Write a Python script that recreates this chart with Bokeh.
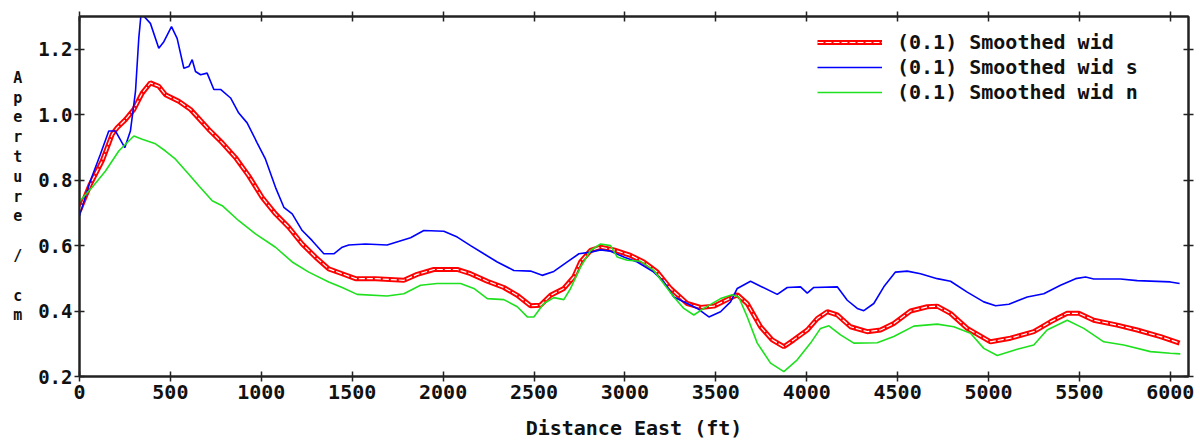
from bokeh.plotting import figure
from bokeh.models import (LinearAxis, Range1d, FixedTicker, PrintfTickFormatter,
                          Legend, LegendItem)
from bokeh.embed import file_html
from bokeh.resources import INLINE

# ---------------- data ----------------
x_ticks = [0, 500, 1000, 1500, 2000, 2500, 3000, 3500, 4000, 4500, 5000, 5500, 6000]
y_ticks = [0.2, 0.4, 0.6, 0.8, 1.0, 1.2]

series_names = ["(0.1) Smoothed wid", "(0.1) Smoothed wid s", "(0.1) Smoothed wid n"]

wid_x = [0, 60, 125, 180, 207, 253, 299, 345, 390, 436, 473, 546, 611, 711, 785, 858, 931,
         1005, 1078, 1151, 1225, 1298, 1371, 1445, 1518, 1628, 1784, 1857, 1949, 2078, 2151,
         2243, 2334, 2408, 2481, 2536, 2591, 2664, 2719, 2756, 2811, 2866, 2939, 3031, 3104,
         3178, 3251, 3343, 3416, 3489, 3563, 3618, 3673, 3746, 3810, 3874, 3929, 4003, 4058,
         4113, 4168, 4241, 4333, 4406, 4479, 4571, 4663, 4718, 4791, 4883, 5011, 5121, 5249,
         5341, 5433, 5497, 5579, 5708, 5818, 5946, 6051]
wid_y = [0.707, 0.788, 0.859, 0.940, 0.960, 0.985, 1.016, 1.066, 1.097, 1.087, 1.061, 1.041,
         1.016, 0.955, 0.914, 0.869, 0.813, 0.747, 0.697, 0.656, 0.605, 0.565, 0.529, 0.514,
         0.499, 0.499, 0.494, 0.512, 0.527, 0.527, 0.514, 0.491, 0.472, 0.448, 0.416, 0.418,
         0.448, 0.469, 0.504, 0.550, 0.585, 0.595, 0.587, 0.570, 0.550, 0.519, 0.469, 0.423,
         0.411, 0.415, 0.435, 0.450, 0.423, 0.352, 0.312, 0.291, 0.312, 0.342, 0.377, 0.398,
         0.388, 0.352, 0.337, 0.342, 0.362, 0.400, 0.413, 0.415, 0.393, 0.347, 0.306, 0.317,
         0.337, 0.367, 0.393, 0.393, 0.372, 0.357, 0.342, 0.322, 0.302]

wid_s_x = [0, 60, 115, 161, 198, 249, 280, 308, 326, 339, 390, 436, 464, 506, 537, 574, 601,
           620, 638, 666, 702, 739, 776, 831, 876, 922, 977, 1023, 1078, 1124, 1170, 1225,
           1280, 1344, 1399, 1445, 1481, 1573, 1692, 1821, 1894, 2004, 2078, 2151, 2224,
           2298, 2389, 2481, 2545, 2609, 2683, 2747, 2811, 2866, 2921, 2994, 3068, 3159,
           3214, 3269, 3343, 3398, 3462, 3526, 3581, 3618, 3691, 3746, 3838, 3893, 3966,
           4003, 4039, 4168, 4223, 4278, 4314, 4369, 4424, 4488, 4553, 4626, 4718, 4791,
           4883, 4974, 5039, 5112, 5213, 5304, 5396, 5479, 5534, 5579, 5726, 5818, 6000, 6051]
wid_s_y = [0.691, 0.798, 0.879, 0.950, 0.950, 0.899, 0.950, 1.071, 1.233, 1.310, 1.279, 1.203,
           1.223, 1.269, 1.233, 1.142, 1.147, 1.168, 1.132, 1.122, 1.127, 1.077, 1.077, 1.051,
           1.005, 0.975, 0.914, 0.864, 0.778, 0.717, 0.697, 0.646, 0.615, 0.575, 0.575, 0.595,
           0.602, 0.605, 0.602, 0.624, 0.646, 0.644, 0.626, 0.600, 0.575, 0.550, 0.524, 0.522,
           0.509, 0.521, 0.550, 0.575, 0.580, 0.587, 0.583, 0.565, 0.550, 0.519, 0.489, 0.443,
           0.423, 0.408, 0.382, 0.398, 0.428, 0.469, 0.491, 0.476, 0.451, 0.472, 0.474, 0.455,
           0.472, 0.474, 0.433, 0.408, 0.401, 0.423, 0.474, 0.519, 0.522, 0.514, 0.499, 0.491,
           0.458, 0.428, 0.416, 0.421, 0.443, 0.453, 0.479, 0.499, 0.504, 0.498, 0.498, 0.493,
           0.489, 0.484]

wid_n_x = [0, 70, 143, 216, 299, 345, 418, 473, 528, 601, 656, 730, 785, 876, 968, 1078, 1170,
           1261, 1371, 1445, 1527, 1692, 1784, 1876, 1967, 2096, 2169, 2243, 2334, 2408, 2463,
           2499, 2554, 2609, 2664, 2701, 2756, 2811, 2866, 2921, 2958, 3013, 3086, 3159, 3269,
           3324, 3379, 3434, 3526, 3590, 3626, 3673, 3728, 3801, 3874, 3948, 4021, 4076, 4122,
           4186, 4259, 4388, 4479, 4589, 4718, 4809, 4901, 4974, 5048, 5158, 5249, 5322, 5433,
           5524, 5634, 5744, 5891, 6000, 6055]
wid_n_y = [0.735, 0.778, 0.828, 0.889, 0.935, 0.925, 0.911, 0.889, 0.864, 0.818, 0.783, 0.737,
           0.722, 0.676, 0.636, 0.595, 0.550, 0.519, 0.489, 0.472, 0.451, 0.446, 0.453, 0.479,
           0.484, 0.484, 0.469, 0.438, 0.435, 0.413, 0.382, 0.382, 0.423, 0.441, 0.435, 0.469,
           0.534, 0.585, 0.605, 0.600, 0.565, 0.555, 0.552, 0.524, 0.443, 0.408, 0.388, 0.408,
           0.438, 0.450, 0.443, 0.382, 0.302, 0.241, 0.215, 0.251, 0.302, 0.347, 0.355, 0.327,
           0.302, 0.303, 0.322, 0.354, 0.360, 0.352, 0.332, 0.286, 0.264, 0.283, 0.296, 0.342,
           0.372, 0.347, 0.306, 0.296, 0.276, 0.271, 0.269]

x_title = "Distance East (ft)"
y_title = "Aperture / cm"

# ---------------- figure ----------------
FONT = "DejaVu Sans Mono"
AXC = "#222222"

p = figure(width=1200, height=442, output_backend="svg", toolbar_location=None,
           x_range=Range1d(0, 6100), y_range=Range1d(0.2, 1.3),
           min_border_left=79, min_border_right=12, min_border_top=16, min_border_bottom=65)
p.grid.visible = False
p.outline_line_color = AXC
p.outline_line_width = 2

def style_axis(ax, labels=True):
    ax.axis_line_color = AXC
    ax.axis_line_width = 2
    ax.major_tick_line_color = AXC
    ax.major_tick_line_width = 1.5
    ax.major_tick_in = 5
    ax.major_tick_out = 5
    ax.minor_tick_line_color = None
    ax.major_label_text_font = FONT
    ax.major_label_text_font_style = "bold"
    ax.major_label_text_color = "#111111"
    if not labels:
        ax.major_label_text_font_size = "1px"
        ax.major_label_text_color = None
        ax.major_label_standoff = 0

xt = FixedTicker(ticks=x_ticks)
yt = FixedTicker(ticks=y_ticks)

p.xaxis.ticker = xt
p.yaxis.ticker = yt
p.xaxis.formatter = PrintfTickFormatter(format="%d")
p.yaxis.formatter = PrintfTickFormatter(format="%.1f")
style_axis(p.xaxis[0])
style_axis(p.yaxis[0])
p.xaxis.major_label_text_font_size = "20px"
p.yaxis.major_label_text_font_size = "19px"
p.xaxis.major_label_standoff = 3
p.yaxis.major_label_standoff = 2

p.xaxis.axis_label = x_title
p.xaxis.axis_label_text_font = FONT
p.xaxis.axis_label_text_font_style = "bold"
p.xaxis.axis_label_text_font_size = "20px"
p.xaxis.axis_label_text_color = "#111111"
p.xaxis.axis_label_standoff = 14

# the y title is written one character per line, as in the reference
stacked = "\n".join(ch for ch in y_title)
p.yaxis.axis_label = stacked
p.yaxis.axis_label_orientation = "horizontal"
p.yaxis.axis_label_text_font = FONT
p.yaxis.axis_label_text_font_style = "bold"
p.yaxis.axis_label_text_font_size = "15px"
p.yaxis.axis_label_text_line_height = 1.10
p.yaxis.axis_label_text_color = "#111111"
p.yaxis.axis_label_text_align = "center"
p.yaxis.axis_label_standoff = 13

top = LinearAxis(ticker=FixedTicker(ticks=x_ticks))
style_axis(top, labels=False)
p.add_layout(top, "above")
right = LinearAxis(ticker=FixedTicker(ticks=y_ticks))
style_axis(right, labels=False)
p.add_layout(right, "right")

# ---------------- lines ----------------
r_red = p.line(wid_x, wid_y, line_color="#ff0000", line_width=5)
r_red_c = p.line(wid_x, wid_y, line_color="white", line_width=1.2, line_dash="6 2")
r_blue = p.line(wid_s_x, wid_s_y, line_color="#0000ff", line_width=1.6)
r_green = p.line(wid_n_x, wid_n_y, line_color="#1ee01e", line_width=1.6)

legend = Legend(items=[LegendItem(label=series_names[0], renderers=[r_red, r_red_c]),
                       LegendItem(label=series_names[1], renderers=[r_blue]),
                       LegendItem(label=series_names[2], renderers=[r_green])],
                location=(738, 272))
legend.label_text_font = FONT
legend.label_text_font_style = "bold"
legend.label_text_font_size = "20px"
legend.label_text_color = "#111111"
legend.glyph_width = 65
legend.glyph_height = 24
legend.label_height = 24
legend.label_standoff = 15
legend.spacing = 1
legend.padding = 0
legend.margin = 0
legend.border_line_alpha = 0
legend.background_fill_alpha = 0
p.add_layout(legend, "center")

open("out.html", "w").write(file_html(p, INLINE))
